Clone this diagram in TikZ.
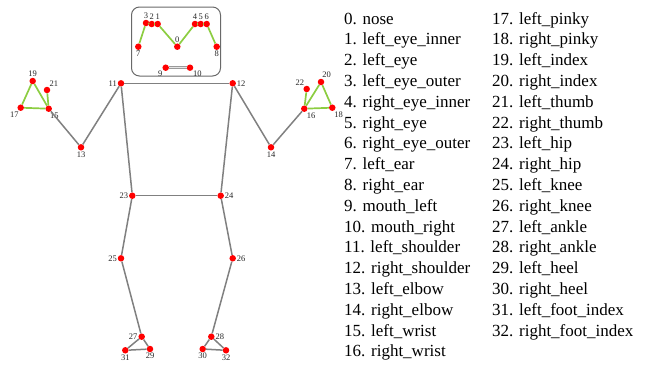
\documentclass[tikz,border=0pt]{standalone}
\usepackage{fontspec}
\setmainfont{Liberation Serif}
\usetikzlibrary{positioning}
\definecolor{limb}{RGB}{140,205,65}
\definecolor{bonegray}{RGB}{128,128,128}
\definecolor{boxgray}{RGB}{105,105,105}

\begin{document}
\begin{tikzpicture}[x=1pt, y=-1pt,
  joint/.style={circle, fill=red, inner sep=0pt, minimum size=6.5pt},
  jlab/.style={font=\fontsize{8.5}{8.5}\selectfont, inner sep=0.6pt, text=black!85},
  bone/.style={bonegray, line width=1.5pt},
  hand/.style={limb, line width=1.7pt},
  item/.style={font=\fontsize{17}{17}\selectfont, anchor=base west, inner sep=0pt}]
  \useasboundingbox (0,0) rectangle (650,365);

  % face frame
  \node[draw=boxgray, line width=1pt, rounded corners=8pt,
        minimum width=89pt, minimum height=69pt, inner sep=0pt] (face) at (176,41.5) {};

  % joints: index / x / y / label position
  \foreach \n/\x/\y/\p in {
      0/177.3/46.7/above, 1/157.7/24/above, 2/151.7/24/above, 3/146/23/above,
      4/195/24/above, 5/200.7/24/above, 6/206.7/24/above,
      7/138.3/46.7/below, 8/216.7/46.7/below, 9/165.7/67.7/below left, 10/190/67.7/below right,
      11/121/83.3/left, 12/232.7/83.3/right, 13/81/147.3/below, 14/271/147.3/below,
      15/48.7/108.7/-80, 16/304.3/108.7/-60, 17/20.7/107.7/-110, 18/332.3/107.7/-70,
      19/32.7/81/above, 20/321/82/80, 21/47/90/60, 22/306.7/89/120,
      23/132.3/195.7/left, 24/220.7/195.7/right, 25/121/258.3/left, 26/232.7/258.3/right,
      27/141.7/336.7/left, 28/211.3/336.7/right, 29/150/349/below, 30/202.7/349/below,
      31/125.3/350.3/below, 32/226/350.3/below} {
    \node[joint, label={[jlab]\p:\n}] (j\n) at (\x,\y) {};
  }

  % skeleton
  \foreach \a/\b in {11/12, 11/13, 13/15, 12/14, 14/16, 11/23, 12/24, 23/24,
                     23/25, 25/27, 24/26, 26/28, 27/29, 29/31, 31/27, 28/30, 30/32, 32/28}
    \draw[bone] (j\a) -- (j\b);
  \foreach \a/\b in {15/17, 17/19, 19/15, 15/21, 16/18, 18/20, 20/16, 16/22,
                     7/3, 3/2, 2/1, 1/0, 0/4, 4/5, 5/6, 6/8}
    \draw[hand] (j\a) -- (j\b);
  \draw[bonegray!80, line width=3.2pt] (j9) -- (j10);
  \draw[white!80!gray, line width=1.2pt] (j9) -- (j10);

  % landmark list
  \foreach \i/\name in {0/nose, 1/left\_eye\_inner, 2/left\_eye, 3/left\_eye\_outer,
      4/right\_eye\_inner, 5/right\_eye, 6/right\_eye\_outer, 7/left\_ear, 8/right\_ear,
      9/mouth\_left, 10/mouth\_right, 11/left\_shoulder, 12/right\_shoulder,
      13/left\_elbow, 14/right\_elbow, 15/left\_wrist, 16/right\_wrist}
    \node[item] (t\i) at (344, 24+20.8*\i) {\i. \name};
  \foreach \i/\name in {17/left\_pinky, 18/right\_pinky, 19/left\_index, 20/right\_index,
      21/left\_thumb, 22/right\_thumb, 23/left\_hip, 24/right\_hip, 25/left\_knee,
      26/right\_knee, 27/left\_ankle, 28/right\_ankle, 29/left\_heel, 30/right\_heel,
      31/left\_foot\_index, 32/right\_foot\_index}
    \node[item] (t\i) at (492, 24+20.8*\i-20.8*17) {\i. \name};
\end{tikzpicture}
\end{document}
